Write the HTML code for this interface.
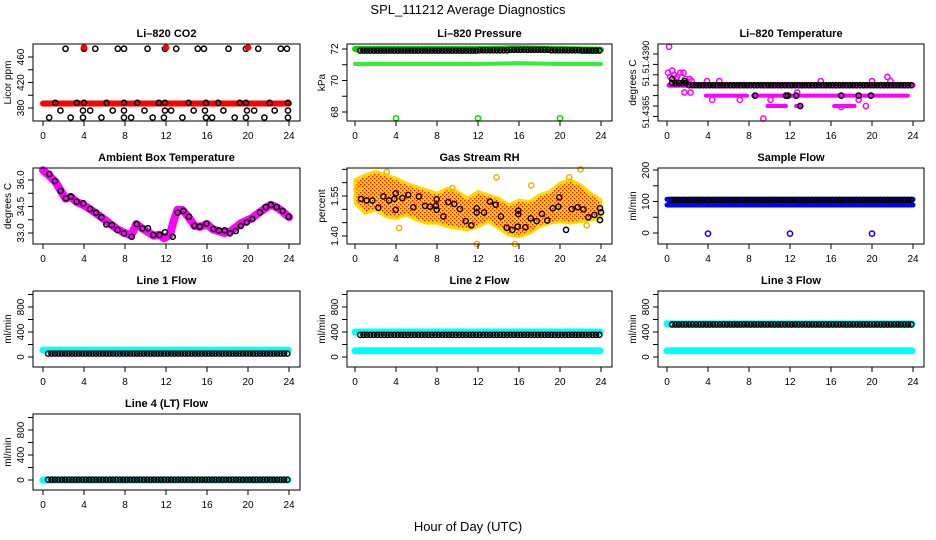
<!DOCTYPE html>
<html><head><meta charset="utf-8"><style>
html,body{margin:0;padding:0;background:#fff;}
svg{display:block;font-family:"Liberation Sans",sans-serif;}
.tt{font-size:11px;font-weight:bold;text-anchor:middle;}
.tk{font-size:10px;text-anchor:middle;}
.tks{font-size:9px;text-anchor:middle;}
</style></head><body>
<svg id="fig" width="936" height="540" viewBox="0 0 936 540">
<defs>
<pattern id="rhpat" width="4" height="4" patternUnits="userSpaceOnUse">
<rect width="4" height="4" fill="#ffd800"/><rect width="1.3" height="1.3" fill="#f00"/><rect x="2" y="2" width="1.3" height="1.3" fill="#f00"/>
</pattern>
</defs>
<text x="468" y="14" font-size="13" text-anchor="middle">SPL_111212  Average Diagnostics</text>
<text x="468" y="531" font-size="13" text-anchor="middle">Hour of Day (UTC)</text>
</svg>
<script>
// ---------- data ----------
const xTicks = [0,4,8,12,16,20,24];
// CO2
const co2BandHours = [0,4,8,12,16,20,24];
const co2BandVals = [387,387,387,387,387,387,387];
const co2TopHours = [2.2,4,5.1,7.3,7.9,10.2,11.9,13,15.1,15.7,18.1,19.8,21,23.2,23.8];
const co2TopVals = [473,473,473,473,473,473,473,473,473,473,473,473,473,473,473];
const co2RedHours = [4,12,20];
const co2RedVals = [475,475,475];
const co2MidHours = [1.2,3.3,4,6.2,7.9,9.2,11.3,11.9,14.2,15.9,17.1,19.2,19.8,22.1,23.9];
const co2MidVals = [388,388,388,388,388,388,388,388,388,388,388,388,388,388,388];
const co2LowHours = [1.7,3.9,4.6,6.8,7.9,9.9,11.9,12.5,14.7,15.8,17.6,19.9,20.6,22.6,23.9];
const co2LowVals = [376,376,376,376,376,376,376,376,376,376,376,376,376,376,376];
const co2BotHours = [0.6,2.7,3.9,5.7,7.9,8.6,10.7,11.8,13.6,15.9,16.5,18.7,19.8,21.6,23.9];
const co2BotVals = [365,365,365,365,365,365,365,365,365,365,365,365,365,365,365];
// Pressure
const presHours = [0,4,8,12,16,20,24];
const presHiVals = [72.0,72.0,72.0,72.0,72.05,72.0,71.95];
const presLoVals = [71.05,71.05,71.05,71.05,71.1,71.05,71.05];
const presBlack = [71.9,71.9,71.9,71.9,71.9,71.9,71.9,71.9,71.9,71.9,71.9,71.9,71.92,71.92,71.92,71.95,71.95,71.95,71.95,71.92,71.92,71.92,71.9,71.9];
const presOutHours = [4,12,20];
const presOutVals = [67.6,67.6,67.6];
// Li-820 temperature
const tmpMainSeg = [[0.2,24]];
const tmpMainVal = 51.4375;
const tmp2Seg = [[3.8,7.8],[8.4,12.2],[12.4,23.5]];
const tmp2Val = 51.4370;
const tmp3Seg = [[9.8,11.6],[12.6,13.1],[16.3,18.3]];
const tmp3Val = 51.4365;
const tmpPtHours = [0.2,0.1,0.3,0.5,0.7,1.0,1.3,1.6,1.8,2.2,2.4,1.7,2.3,4.4,7.1,9.4,10.1,12.7,17.0,15.0,21.5,21.8,20.0,18.7,19.4,5.1,3.9,0.9];
const tmpPtVals = [51.43935,51.4381,51.4379,51.4382,51.4380,51.4379,51.4381,51.4381,51.4378,51.4378,51.4377,51.43715,51.43715,51.4368,51.4368,51.4359,51.4368,51.43715,51.43645,51.4377,51.4379,51.4377,51.4377,51.4368,51.4365,51.4377,51.4377,51.4378];
const tmpBlack = [51.4376,51.4376,51.4375,51.4375,51.4375,51.4375,51.4375,51.4375,51.4375,51.4375,51.4375,51.4375,51.4375,51.4375,51.4375,51.4375,51.4375,51.4375,51.4375,51.4375,51.4375,51.4375,51.4375,51.4375];
const tmpBlack2Hours = [0.5,1.7,8.6,11.6,11.8,12.6,13.0,17.0,18.7,19.9];
const tmpBlack2Vals = [51.4378,51.4377,51.4370,51.4370,51.4370,51.4370,51.4365,51.4370,51.4370,51.4370];
// Ambient box temperature
const ambHours = [0.62,1.17,1.72,2.24,2.73,3.29,3.93,4.59,5.17,5.69,6.18,6.73,7.28,7.9,8.65,9.14,9.69,10.24,10.76,11.35,11.9,12.65,13.14,13.69,14.24,14.76,15.3,15.95,16.62,17.17,17.73,18.24,18.8,19.3,19.87,20.42,21.17,21.72,22.24,22.8,23.38,23.97];
const ambVals = [36.34,35.94,35.38,34.96,35.06,34.77,34.68,34.36,34.15,33.89,33.49,33.45,33.17,32.98,32.79,33.51,33.27,33.27,32.89,32.89,33.04,32.79,34.15,34.25,33.92,33.41,33.36,33.53,33.23,33.15,33.15,32.98,33.11,33.40,33.60,33.79,34.17,34.47,34.59,34.47,34.25,33.92];
const ambBandHours = [0,0.6,1.2,2.2,2.7,3.3,3.9,4.6,5.7,6.7,7.3,8,8.6,9.1,9.7,10.8,11.4,11.8,12.4,12.7,13.1,13.6,14.2,14.8,15.3,16,16.6,17.7,18.3,19.3,20.4,21.2,22.2,22.8,23.4,24];
const ambBandVals = [36.55,36.25,35.9,34.95,35.05,34.75,34.6,34.35,33.9,33.45,33.2,33.0,32.85,33.5,33.25,32.85,32.9,32.7,32.9,33.6,34.3,34.3,33.9,33.4,33.35,33.5,33.2,33.0,33.1,33.55,33.85,34.2,34.6,34.45,34.2,33.9];
// Gas stream RH
const rhEnvHours = [0,1,2,3,4,5,6,7,8,9,10,11,12,13,14,15,16,17,18,19,20,21,22,23,24];
const rhUpper = [1.611,1.629,1.642,1.629,1.617,1.598,1.585,1.573,1.560,1.579,1.567,1.542,1.567,1.554,1.542,1.517,1.535,1.529,1.554,1.567,1.598,1.611,1.592,1.560,1.535];
const rhLower = [1.523,1.485,1.498,1.473,1.466,1.479,1.460,1.448,1.448,1.435,1.429,1.423,1.435,1.454,1.429,1.404,1.397,1.410,1.435,1.448,1.454,1.448,1.454,1.460,1.466];
const rhPtHours = [0.59,1.14,1.69,2.28,2.76,3.32,3.84,3.97,3.97,4.62,5.2,5.69,6.24,6.83,7.32,7.9,7.97,7.97,8.62,9.1,9.69,10.24,10.8,11.35,11.87,11.87,12.59,13.17,13.72,14.24,14.8,15.35,15.87,15.93,15.93,16.62,17.14,17.73,18.24,18.76,19.29,19.84,19.93,20.59,21.14,21.72,22.28,22.76,23.35,23.9,24.0,23.9];
const rhPtVals = [1.539,1.533,1.533,1.506,1.548,1.533,1.539,1.560,1.498,1.542,1.554,1.508,1.548,1.513,1.510,1.513,1.538,1.498,1.473,1.527,1.520,1.501,1.456,1.440,1.504,1.488,1.488,1.529,1.517,1.473,1.431,1.423,1.435,1.495,1.482,1.433,1.466,1.456,1.483,1.458,1.504,1.510,1.545,1.423,1.501,1.508,1.500,1.470,1.479,1.504,1.489,1.460];
const rhOutHours = [0.3,3.1,4.3,9.5,11.9,13.8,15.6,17.2,20.9,22.0,22.6];
const rhOutVals = [1.58,1.64,1.43,1.58,1.37,1.62,1.37,1.59,1.62,1.65,1.44];
// Sample flow
const sfHours = [0,4,8,12,16,20,24];
const sfHi = [107,107,107,107,107,107,107];
const sfLo = [89,89,89,89,89,89,89];
const sfBlack = [105,105,105,105,105,105,105,105,105,105,105,105,105,105,105,105,105,105,105,105,105,105,105,105];
const sfOutHours = [4,12,20];
const sfOutVals = [-2,-2,-2];
// Line flows
const l1Cyan = [110];
const l1Black = [55,55,55,55,55,55,55,55,55,55,55,55,55,55,55,55,55,55,55,55,55,55,55,55];
const l2Cyan = [400,100];
const l2Black = [355,355,355,355,355,355,355,355,355,355,355,355,355,355,355,355,355,355,355,355,355,355,355,355];
const l3Cyan = [530,100];
const l3Black = [520,520,520,520,520,520,520,520,520,520,520,520,520,520,520,520,520,520,520,520,520,520,520,520];
const l4Cyan = [0];
const l4Black = [5,5,5,5,5,5,5,5,5,5,5,5,5,5,5,5,5,5,5,5,5,5,5,5];

// ---------- drawing ----------
const NS = 'http://www.w3.org/2000/svg';
const fig = document.getElementById('fig');
function mk(tag, attrs, parent){
  const e = document.createElementNS(NS, tag);
  for (const k in attrs) e.setAttribute(k, attrs[k]);
  (parent||fig).appendChild(e);
  return e;
}
const cols = [{l:33,r:300,x0:43},{l:347,r:612,x0:355},{l:658,r:924,x0:667}];
const rows = [{t:44,b:121},{t:168,b:244},{t:291,b:367},{t:414,b:490}];
const PPH = 10.25;

function panel(name, ci, ri, title, ytitle, v1, y1off, v2, y2off, ticks, labels, small){
  const c = cols[ci], r = rows[ri];
  const g = mk('g', {});
  
  
  const X = h => c.x0 + h*PPH;
  const slope = (y2off - y1off)/(v2 - v1);
  const Y = v => r.t + y1off + (v - v1)*slope;
  const cx = (c.l + c.r)/2;
  const tt = mk('text', {x:cx, y:r.t-7, class:'tt'}, g); tt.textContent = title;
  
  
  const plot = mk('g', {}, g);
  
  
  const box = mk('rect', {x:c.l, y:r.t, width:c.r-c.l, height:r.b-r.t, fill:'none', stroke:'#000', 'stroke-width':1}, g);
  
  
  const xa = mk('g', {}, g);
  
  
  xTicks.forEach(t => {
    mk('line', {x1:X(t), x2:X(t), y1:r.b, y2:r.b+5, stroke:'#000'}, xa);
    const tx = mk('text', {x:X(t), y:r.b+18, class:'tk'}, xa); tx.textContent = t;
  });
  const ya = mk('g', {}, g);
  
  
  ticks.forEach(t => mk('line', {x1:c.l-5, x2:c.l, y1:Y(t), y2:Y(t), stroke:'#000'}, ya));
  labels.forEach(lb => {
    const yy = lb.y !== undefined ? lb.y : Y(lb.v);
    const tx = mk('text', {x:0, y:0, class: small ? 'tks' : 'tk', transform:`translate(${c.l-9},${yy}) rotate(-90)`}, ya);
    tx.textContent = lb.t;
  });
  const yt = mk('text', {x:0, y:0, class:'tk', transform:`translate(${c.l-22},${(r.t+r.b)/2}) rotate(-90)`}, g);
  yt.textContent = ytitle;
  
  
  return {X, Y, plot, r, c};
}
function pts(p, hours, vals, color, nm, rad, fill){
  hours.forEach((h,i) => {
    const e = mk('circle', {cx:p.X(h), cy:p.Y(vals[i]), r:rad||2.6, fill:fill||'none', stroke:color, 'stroke-width':1.5}, p.plot);
    
    
  });
}
function band(p, hours, vals, color, w, nm){
  const d = hours.map((h,i) => `${p.X(h)},${p.Y(vals[i])}`).join(' ');
  const e = mk('polyline', {points:d, fill:'none', stroke:color, 'stroke-width':w, 'stroke-linecap':'round', 'stroke-linejoin':'round'}, p.plot);
  
  
}
function seg(p, segs, v, color, w, nm){
  segs.forEach(s => band(p, s, [v,v], color, w, nm));
}
function hourlyBlack(p, arr, nm){
  const hs = [], vs = [];
  for (let i = 0; i < 71; i++){ const h = 0.5 + i/3; hs.push(h); vs.push(arr[Math.min(23, Math.floor(h))]); }
  pts(p, hs, vs, '#000', nm);
}

let p = panel('co2-panel',0,0,'Li\u2013820 CO2','Licor ppm',460,13,380,64,[380,400,420,440,460],[{v:380,t:'380'},{v:420,t:'420'},{v:460,t:'460'}]);
band(p, co2BandHours, co2BandVals, '#f00', 6, 'co2-red-band');
pts(p, co2TopHours, co2TopVals, '#000', 'co2-point');
pts(p, co2RedHours, co2RedVals, '#f00', 'co2-red-point', 2.6, '#f00');
pts(p, co2MidHours, co2MidVals, '#000', 'co2-point');
pts(p, co2LowHours, co2LowVals, '#000', 'co2-point');
pts(p, co2BotHours, co2BotVals, '#000', 'co2-point');

p = panel('pressure-panel',1,0,'Li\u2013820 Pressure','kPa',72,5,68,68,[68,69,70,71,72],[{v:68,t:'68'},{v:70,t:'70'},{v:72,t:'72'}]);
band(p, presHours, presHiVals, '#0d0', 6, 'pressure-green-band-high');
band(p, presHours, presLoVals, '#3e3', 4, 'pressure-green-band-low');
hourlyBlack(p, presBlack, 'pressure-black-point');
pts(p, presOutHours, presOutVals, '#0d0', 'pressure-outlier');

p = panel('li820-temp-panel',2,0,'Li\u2013820 Temperature','degrees C',51.4390,10,51.4365,62,[51.4360,51.4365,51.4370,51.4375,51.4380,51.4385,51.4390],[{y:57,t:'51.4390'},{y:80,t:'51.'},{y:112,t:'51.4365'}], true);
seg(p, tmpMainSeg, tmpMainVal, '#f0f', 5, 'temp-main-band');
seg(p, tmp2Seg, tmp2Val, '#f0f', 4, 'temp-second-band');
seg(p, tmp3Seg, tmp3Val, '#f0f', 4, 'temp-third-band');
pts(p, tmpPtHours, tmpPtVals, '#f0f', 'temp-magenta-point');
hourlyBlack(p, tmpBlack, 'temp-black-point');
pts(p, tmpBlack2Hours, tmpBlack2Vals, '#000', 'temp-black-point');

p = panel('ambient-temp-panel',0,1,'Ambient Box Temperature','degrees C',36,12,33,65,[33,33.75,34.5,35.25,36],[{v:33,t:'33.0'},{v:34.5,t:'34.5'},{v:36,t:'36.0'}]);
band(p, ambBandHours, ambBandVals, '#f0f', 8, 'ambient-magenta-band');
pts(p, ambHours, ambVals, '#000', 'ambient-point');

p = panel('gas-rh-panel',1,1,'Gas Stream RH','percent',1.40,68,1.55,28,[1.40,1.45,1.50,1.55,1.60,1.65],[{v:1.40,t:'1.40'},{v:1.55,t:'1.55'}]);
{
  const up = rhEnvHours.map((h,i)=>`${p.X(h)},${p.Y(rhUpper[i])}`);
  const lo = rhEnvHours.map((h,i)=>`${p.X(h)},${p.Y(rhLower[i])}`).reverse();
  const e = mk('polygon', {points:up.concat(lo).join(' '), fill:'url(#rhpat)', stroke:'#ffd800', 'stroke-width':3, 'stroke-linejoin':'round'}, p.plot);
  
  
}
pts(p, rhOutHours, rhOutVals, '#f5b000', 'rh-outlier');
pts(p, rhPtHours, rhPtVals, '#000', 'rh-point');

p = panel('sample-flow-panel',2,1,'Sample Flow','ml/min',0,65,200,2,[0,50,100,150,200],[{v:0,t:'0'},{v:100,t:'100'},{v:200,t:'200'}]);
band(p, sfHours, sfHi, '#00f', 5, 'sample-flow-band-high');
band(p, sfHours, sfLo, '#00f', 5, 'sample-flow-band-low');
{
  const e = mk('rect', {x:p.X(0), y:p.Y(sfHi[0]), width:p.X(24)-p.X(0), height:p.Y(sfLo[0])-p.Y(sfHi[0]), fill:'#00f'}, p.plot);
  
  
}
hourlyBlack(p, sfBlack, 'sample-flow-black-point');
pts(p, sfOutHours, sfOutVals, '#00f', 'sample-flow-outlier');

const flowTicks = [0,200,400,600,800,1000];
const flowLabels = [{v:0,t:'0'},{v:400,t:'400'},{v:800,t:'800'}];
function flowPanel(name, ci, ri, title, cyan, black){
  const q = panel(name, ci, ri, title, 'ml/min', 0, 66, 400, 41, flowTicks, flowLabels);
  cyan.forEach(v => band(q, [0,23.9], [v,v], '#0ff', 7, name + '-cyan-band'));
  hourlyBlack(q, black, name + '-black-point');
}
flowPanel('line1-flow-panel',0,2,'Line 1 Flow',l1Cyan,l1Black);
flowPanel('line2-flow-panel',1,2,'Line 2 Flow',l2Cyan,l2Black);
flowPanel('line3-flow-panel',2,2,'Line 3 Flow',l3Cyan,l3Black);
flowPanel('line4-flow-panel',0,3,'Line 4 (LT) Flow',l4Cyan,l4Black);
</script>
</body></html>
